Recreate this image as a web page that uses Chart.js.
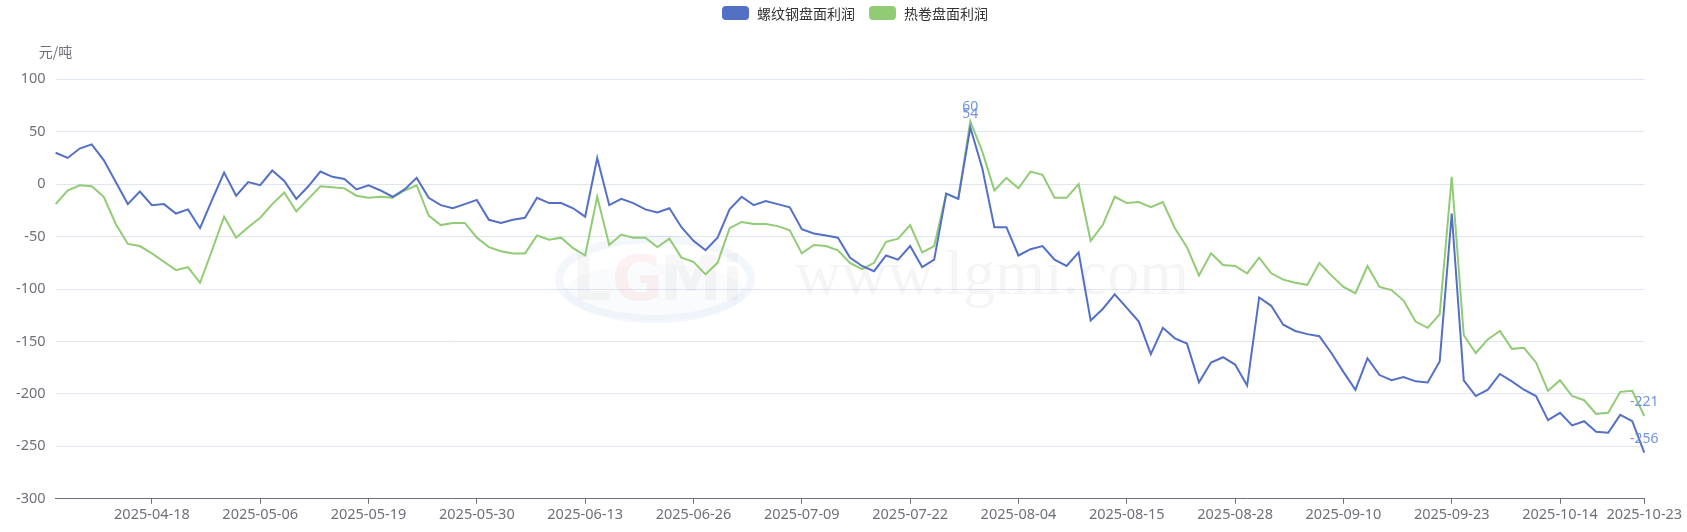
<!DOCTYPE html>
<html>
<head>
<meta charset="utf-8">
<script src="https://cdn.jsdelivr.net/npm/chart.js@4.4.1/dist/chart.umd.min.js"></script>
<style>
html,body{margin:0;padding:0;background:#fff;}
#wrap{width:1687px;height:532px;position:relative;}
</style>
</head>
<body>
<div id="wrap"><canvas id="c" width="1687" height="532"></canvas></div>
<script>
const dates = [
'2025-04-08','2025-04-09','2025-04-10','2025-04-11','2025-04-14','2025-04-15','2025-04-16','2025-04-17','2025-04-18','2025-04-21','2025-04-22','2025-04-23','2025-04-24','2025-04-25','2025-04-28','2025-04-29','2025-04-30',
'2025-05-06','2025-05-07','2025-05-08','2025-05-09','2025-05-12','2025-05-13','2025-05-14','2025-05-15','2025-05-16','2025-05-19','2025-05-20','2025-05-21','2025-05-22','2025-05-23','2025-05-26','2025-05-27','2025-05-28','2025-05-29','2025-05-30',
'2025-06-03','2025-06-04','2025-06-05','2025-06-06','2025-06-09','2025-06-10','2025-06-11','2025-06-12','2025-06-13','2025-06-16','2025-06-17','2025-06-18','2025-06-19','2025-06-20','2025-06-23','2025-06-24','2025-06-25','2025-06-26','2025-06-27','2025-06-30',
'2025-07-01','2025-07-02','2025-07-03','2025-07-04','2025-07-07','2025-07-08','2025-07-09','2025-07-10','2025-07-11','2025-07-14','2025-07-15','2025-07-16','2025-07-17','2025-07-18','2025-07-21','2025-07-22','2025-07-23','2025-07-24','2025-07-25','2025-07-28','2025-07-29','2025-07-30','2025-07-31',
'2025-08-01','2025-08-04','2025-08-05','2025-08-06','2025-08-07','2025-08-08','2025-08-11','2025-08-12','2025-08-13','2025-08-14','2025-08-15','2025-08-18','2025-08-19','2025-08-20','2025-08-21','2025-08-22','2025-08-25','2025-08-26','2025-08-27','2025-08-28','2025-08-29',
'2025-09-01','2025-09-02','2025-09-03','2025-09-04','2025-09-05','2025-09-08','2025-09-09','2025-09-10','2025-09-11','2025-09-12','2025-09-15','2025-09-16','2025-09-17','2025-09-18','2025-09-19','2025-09-22','2025-09-23','2025-09-24','2025-09-25','2025-09-26','2025-09-29','2025-09-30',
'2025-10-09','2025-10-10','2025-10-13','2025-10-14','2025-10-15','2025-10-16','2025-10-17','2025-10-20','2025-10-21','2025-10-22','2025-10-23'
];

const rebarProfit = [
30,25,34,38,23,2,-19,-7,-20,-19,-28,-24,-42,-15,11,-11,2,
-1,13,3,-14,-2,12,7,5,-5,-1,-6,-12,-5,6,-13,-20,-23,-19,-15,
-34,-37,-34,-32,-13,-18,-18,-23,-31,25,-20,-14,-18,-24,-27,-23,-41,-54,-63,-51,
-24,-12,-20,-16,-19,-22,-43,-47,-49,-51,-70,-78,-83,-68,-72,-59,-79,-72,-9,-14,54,15,-41,
-41,-68,-62,-59,-72,-78,-65,-130,-119,-105,-118,-131,-162,-137,-147,-152,-189,-170,-165,-172,-192,
-108,-116,-134,-140,-143,-145,-161,-179,-196,-166,-182,-187,-184,-188,-189,-169,-28,-187,-202,-196,-181,-188,
-196,-202,-225,-218,-230,-226,-236,-237,-220,-226,-256
];

const hrcProfit = [
-19,-6,-1,-2,-12,-38,-57,-59,-66,-74,-82,-79,-94,-63,-31,-51,-41,
-32,-19,-8,-26,-14,-2,-3,-4,-11,-13,-12,-13,-6,-1,-30,-39,-37,-37,-51,
-60,-64,-66,-66,-49,-53,-51,-61,-68,-12,-58,-48,-51,-51,-60,-52,-70,-74,-86,-75,
-42,-36,-38,-38,-40,-44,-66,-58,-59,-63,-75,-81,-75,-55,-52,-39,-65,-59,-9,-14,60,31,-6,
6,-4,12,9,-13,-13,0,-54,-39,-12,-18,-17,-22,-17,-42,-60,-87,-66,-77,-78,-85,
-70,-85,-91,-94,-96,-75,-87,-98,-104,-78,-98,-101,-111,-131,-137,-124,7,-144,-161,-148,-140,-157,
-156,-170,-197,-187,-202,-206,-219,-218,-198,-197,-221
];

const seriesNames = ['螺纹钢盘面利润', '热卷盘面利润'];
const seriesColors = ['#5470C6', '#91CC75'];
const yTickValues = [100, 50, 0, -50, -100, -150, -200, -250, -300];
const yUnit = '元/吨';
const labeledPoints = [76, 132];
const watermarkText = 'www.lgmi.com';

const FONT = "'Noto Sans', 'Noto Sans CJK SC', sans-serif";
const CJK = "'Noto Sans CJK SC', 'Noto Sans', sans-serif";
const AXIS_COLOR = '#6E7079';

const watermarkPlugin = {
  id: 'watermark',
  beforeDatasetsDraw(chart) {
    const ctx = chart.ctx;
    ctx.save();
    ctx.strokeStyle = 'rgba(120,150,210,0.09)';
    ctx.lineWidth = 8;
    ctx.beginPath();
    ctx.ellipse(655, 279, 96, 40, 0, 0, Math.PI * 2);
    ctx.stroke();
    ctx.fillStyle = 'rgba(150,170,220,0.05)';
    ctx.beginPath();
    ctx.ellipse(655, 292, 90, 28, 0, 0, Math.PI * 2);
    ctx.fill();
    ctx.font = "bold 62px 'DejaVu Sans', sans-serif";
    ctx.textBaseline = 'alphabetic';
    ctx.textAlign = 'left';
    ctx.fillStyle = 'rgba(140,140,140,0.07)';
    ctx.fillText('L', 572, 300);
    ctx.fillStyle = 'rgba(230,80,80,0.08)';
    ctx.fillText('G', 612, 300);
    ctx.fillStyle = 'rgba(140,140,140,0.07)';
    ctx.fillText('Mi', 660, 300);
    ctx.font = "64px 'Liberation Serif', 'DejaVu Serif', serif";
    ctx.fillStyle = 'rgba(120,120,120,0.07)';
    ctx.fillText(watermarkText, 795, 294);
    ctx.restore();
  }
};

const extrasPlugin = {
  id: 'extras',
  afterDatasetsDraw(chart) {
    const ctx = chart.ctx;
    ctx.save();
    ctx.font = '14px ' + FONT;
    ctx.fillStyle = '#7393DB';
    ctx.textAlign = 'center';
    ctx.textBaseline = 'middle';
    chart.data.datasets.forEach((ds, di) => {
      const meta = chart.getDatasetMeta(di);
      labeledPoints.forEach(idx => {
        const pt = meta.data[idx];
        if (!pt) return;
        ctx.fillText(String(Math.round(ds.data[idx])), pt.x, pt.y - 14);
      });
    });
    ctx.font = '14px ' + CJK;
    ctx.fillStyle = AXIS_COLOR;
    ctx.textAlign = 'center';
    ctx.fillText(yUnit, chart.chartArea.left, 51.5);
    const items = [{x: 722}, {x: 869}];
    ctx.font = '14px ' + CJK;
    ctx.textAlign = 'left';
    items.forEach((it, i) => {
      ctx.fillStyle = seriesColors[i];
      ctx.beginPath();
      ctx.roundRect(it.x, 6, 27, 14, 4);
      ctx.fill();
      ctx.fillStyle = '#333';
      ctx.fillText(seriesNames[i], it.x + 35, 13.5);
    });
    ctx.restore();
  }
};

new Chart(document.getElementById('c'), {
  type: 'line',
  data: {
    labels: dates,
    datasets: [
      { label: seriesNames[0], data: rebarProfit, borderColor: seriesColors[0], backgroundColor: seriesColors[0], borderWidth: 2, pointRadius: 0, pointHoverRadius: 0, tension: 0, fill: false },
      { label: seriesNames[1], data: hrcProfit, borderColor: seriesColors[1], backgroundColor: seriesColors[1], borderWidth: 2, pointRadius: 0, pointHoverRadius: 0, tension: 0, fill: false }
    ]
  },
  options: {
    responsive: false,
    devicePixelRatio: 1,
    animation: false,
    events: [],
    layout: { padding: { top: 79.3, right: 42.7, left: 0, bottom: 0 } },
    plugins: { legend: { display: false }, title: { display: false }, tooltip: { enabled: false } },
    scales: {
      x: {
        type: 'category',
        offset: false,
        afterFit(scale) { scale.height = 33.2; },
        border: { display: true, color: AXIS_COLOR, width: 1 },
        grid: {
          display: true,
          drawOnChartArea: false,
          drawTicks: true,
          tickLength: 5,
          color: (c) => {
            const i = c.index;
            return (i % 9 === 8 || i === dates.length - 1) ? AXIS_COLOR : 'rgba(0,0,0,0)';
          }
        },
        ticks: {
          autoSkip: false,
          maxRotation: 0,
          minRotation: 0,
          padding: 2,
          color: AXIS_COLOR,
          font: { family: FONT, size: 14.5 },
          callback: (v, i) => (i % 9 === 8 || i === dates.length - 1) ? dates[i] : ''
        }
      },
      y: {
        min: -300,
        max: 100,
        afterFit(scale) { scale.width = 55.6; },
        afterBuildTicks(scale) { scale.ticks = yTickValues.map(v => ({ value: v })); },
        border: { display: false },
        grid: { color: '#E0E6F1', lineWidth: 1, drawTicks: false },
        ticks: {
          padding: 10,
          color: AXIS_COLOR,
          font: { family: FONT, size: 14.5 }
        }
      }
    }
  },
  plugins: [watermarkPlugin, extrasPlugin]
});
</script>
</body>
</html>
